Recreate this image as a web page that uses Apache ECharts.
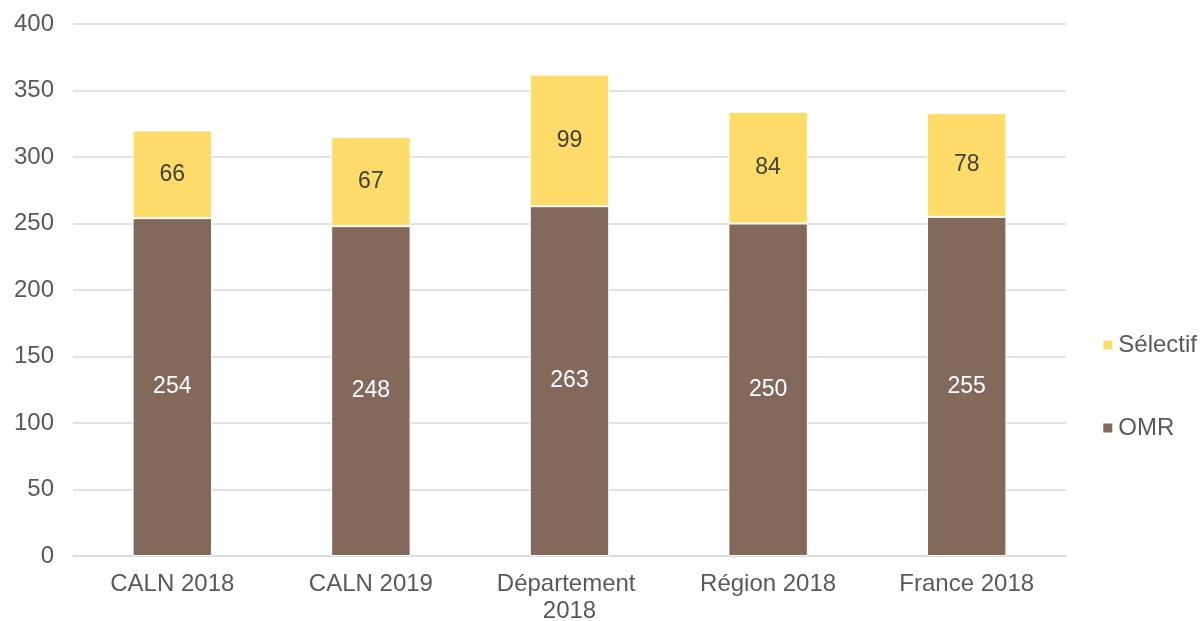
<!DOCTYPE html>
<html>
<head>
<meta charset="utf-8">
<script src="https://cdn.jsdelivr.net/npm/echarts@6/dist/echarts.min.js"></script>
<style>
  html, body { margin: 0; padding: 0; background: #fff; }
  #chart { width: 1202px; height: 621px; }
</style>
</head>
<body>
<div id="chart"></div>
<script>
// données
var categories = ['CALN 2018', 'CALN 2019', 'Département 2018', 'Région 2018', 'France 2018'];
var omr = [254, 248, 263, 250, 255];
var selectif = [66, 67, 99, 84, 78];
var yTicks = { min: 0, max: 400, interval: 50 };

var chart = echarts.init(document.getElementById('chart'));
chart.setOption({
  animation: false,
  textStyle: { fontFamily: 'Liberation Sans, Arial, sans-serif' },
  grid: { left: 73, right: 136, top: 24, bottom: 65, containLabel: false, outerBoundsMode: 'none' },
  legend: {
    orient: 'vertical',
    right: 0,
    top: 328,
    itemGap: 59,
    itemWidth: 11,
    itemHeight: 11,
    icon: 'rect',
    data: ['Sélectif', 'OMR'],
    textStyle: { fontSize: 24, color: '#595959' }
  },
  xAxis: {
    type: 'category',
    data: categories,
    axisLine: { lineStyle: { color: '#d9d9d9', width: 1.5 } },
    axisTick: { show: false },
    axisLabel: {
      interval: 0,
      fontSize: 24,
      color: '#595959',
      margin: 15,
      width: 160,
      overflow: 'break',
      lineHeight: 27
    }
  },
  yAxis: {
    type: 'value',
    min: yTicks.min,
    max: yTicks.max,
    interval: yTicks.interval,
    axisLine: { show: false },
    axisTick: { show: false },
    splitLine: { lineStyle: { color: '#d9d9d9', width: 1.5 } },
    axisLabel: { fontSize: 24, color: '#595959', margin: 19 }
  },
  series: [
    {
      name: 'OMR',
      type: 'bar',
      stack: 'total',
      data: omr,
      barWidth: '40%',
      itemStyle: { color: '#82695c', borderColor: '#fff', borderWidth: 1 },
      label: { show: true, position: 'inside', fontSize: 23, color: '#ffffff' }
    },
    {
      name: 'Sélectif',
      type: 'bar',
      stack: 'total',
      data: selectif,
      barWidth: '40%',
      itemStyle: { color: '#ffdc69', borderColor: '#fff', borderWidth: 1 },
      label: { show: true, position: 'inside', fontSize: 23, color: '#404040' }
    }
  ]
});
</script>
</body>
</html>
